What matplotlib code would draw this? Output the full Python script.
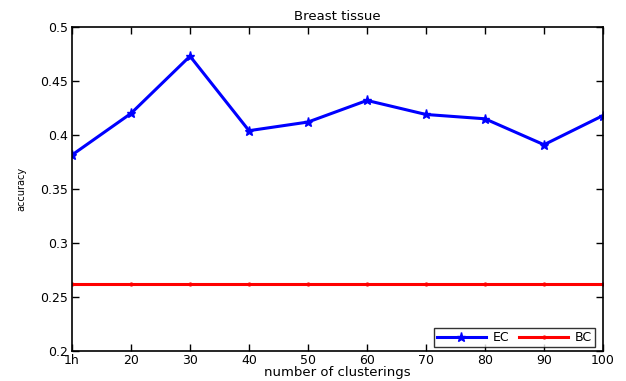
import matplotlib
matplotlib.use("Agg")
import matplotlib.pyplot as plt

x_pos = [10, 20, 30, 40, 50, 60, 70, 80, 90, 100]
x_labels = ["1h", "20", "30", "40", "50", "60", "70", "80", "90", "100"]
ec = [0.3815, 0.420, 0.473, 0.404, 0.412, 0.432, 0.419, 0.415, 0.391, 0.418]
bc = [0.262] * 10
y_ticks = [0.2, 0.25, 0.3, 0.35, 0.4, 0.45, 0.5]
y_labels = ["0.2", "0.25", "0.3", "0.35", "0.4", "0.45", "0.5"]

plt.rcParams['font.family'] = ['DejaVu Sans']

fig = plt.figure(figsize=(6.26, 3.81), dpi=100)
ax = fig.add_axes([72/626, 1-351/381, (603-72)/626, (351-27)/381])

ax.plot(x_pos, ec, color='#0000ff', lw=2.2, marker='*', ms=6.5, label='EC')
ax.plot(x_pos, bc, color='#ff0000', lw=2.2, marker='.', ms=4, label='BC')

ax.set_xlim(10, 100)
ax.set_ylim(0.2, 0.5)
ax.set_xticks(x_pos)
ax.set_xticklabels(x_labels)
ax.set_yticks(y_ticks)
ax.set_yticklabels(y_labels)
ax.tick_params(direction='in', top=True, right=True, labelsize=9, length=5, width=1.0)
ax.tick_params(axis='x', pad=2.5)
ax.tick_params(axis='y', pad=3)
for s in ax.spines.values():
    s.set_linewidth(1.2)
ax.set_title('Breast tissue', fontsize=9.5, pad=5)
ax.set_xlabel('number of clusterings', fontsize=9.5, labelpad=-1)
ax.set_ylabel('accuracy', fontsize=7, labelpad=10)

leg = ax.legend(loc='lower right', ncol=2, fontsize=9, frameon=True, fancybox=False,
                edgecolor='black', bbox_to_anchor=(1 - 8/531, 4/324), borderaxespad=0,
                handlelength=3.9, borderpad=0.25, columnspacing=0.8, handletextpad=0.55)
leg.get_frame().set_linewidth(1.0)

fig.savefig('out.png', dpi=100)
